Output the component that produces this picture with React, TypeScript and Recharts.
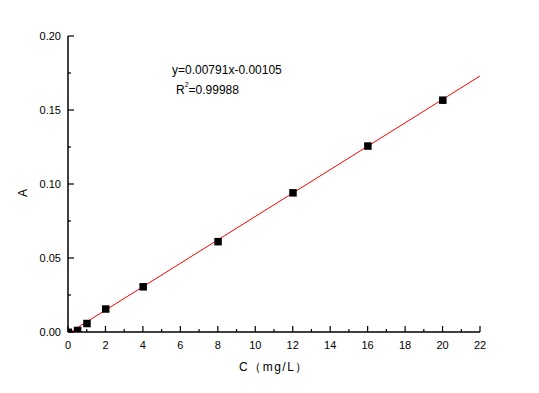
import React from 'react'
import { ComposedChart, Scatter, Line, XAxis, YAxis } from 'recharts'

// measured concentrations (mg/L) and absorbance
const conc = [0, 0.5, 1, 2, 4, 8, 12, 16, 20]
const absorb = [0, 0.0012, 0.0059, 0.0157, 0.0307, 0.0612, 0.0942, 0.1258, 0.1568]

// linear fit y=0.00791x-0.00105, drawn across the axis range
const fitX = [0.133, 22]
const fitY = [0, 0.17297]

const xTicks = Array.from({ length: 23 }, (_, i) => i)
const yTicks = [0, 0.025, 0.05, 0.075, 0.1, 0.125, 0.15, 0.175, 0.2]

const points = conc.map((c, i) => ({ x: c, y: absorb[i] }))
const fit = fitX.map((x, i) => ({ x, y: fitY[i] }))

const font = '"Liberation Sans", Arial, sans-serif'

const XTick = (props: any) => {
    const { x, y, payload } = props
    const major = payload.value % 2 === 0
    const top = y - 8
    return (
        <g>
            <line x1={x} x2={x} y1={top} y2={top - (major ? 6 : 3)} stroke="#000" strokeWidth={1.2} />
            {major && (
                <text x={x} y={top + 17} textAnchor="middle" fontSize={11} fontFamily={font} fill="#000">
                    {payload.value}
                </text>
            )}
        </g>
    )
}

const YTick = (props: any) => {
    const { x, y, payload } = props
    const v = payload.value
    const major = Math.abs(Math.round(v * 20) - v * 20) < 1e-6
    const ax = x + 8
    return (
        <g>
            <line x1={ax} x2={ax + (major ? 6 : 3)} y1={y} y2={y} stroke="#000" strokeWidth={1.2} />
            {major && (
                <text x={ax - 7} y={y + 4} textAnchor="end" fontSize={11} fontFamily={font} fill="#000">
                    {v.toFixed(2)}
                </text>
            )}
        </g>
    )
}

const Square = (props: any) => {
    const { cx, cy } = props
    return <rect x={cx - 3.5} y={cy - 3.5} width={7.5} height={7.5} fill="#000" />
}

export default function App() {
    return (
        <div style={{ position: 'absolute', left: 0, top: 0, width: 539, height: 393, background: '#fff', fontFamily: font }}>
            <ComposedChart width={539} height={393} margin={{ top: 36, right: 59, left: 0, bottom: 0 }}>
                <XAxis
                    dataKey="x"
                    type="number"
                    domain={[0, 22]}
                    ticks={xTicks}
                    interval={0}
                    height={61}
                    tickLine={false}
                    tick={<XTick />}
                    axisLine={{ stroke: '#000', strokeWidth: 1.5 }}
                    allowDataOverflow
                />
                <YAxis
                    dataKey="y"
                    type="number"
                    domain={[0, 0.2]}
                    ticks={yTicks}
                    interval={0}
                    width={68}
                    tickLine={false}
                    tick={<YTick />}
                    axisLine={{ stroke: '#000', strokeWidth: 1.5 }}
                    allowDataOverflow
                />
                <Line data={fit} dataKey="y" stroke="#ff0000" strokeWidth={1} dot={false} isAnimationActive={false} />
                <Scatter data={points} dataKey="y" shape={<Square />} isAnimationActive={false} />
            </ComposedChart>
            <div style={{ position: 'absolute', left: 172, top: 63, fontSize: 12, color: '#000' }}>y=0.00791x-0.00105</div>
            <div style={{ position: 'absolute', left: 176, top: 83, fontSize: 12, color: '#000' }}>
                R<sup style={{ fontSize: 7, verticalAlign: 'top', position: 'relative', top: -2 }}>2</sup>=0.99988
            </div>
            <div
                style={{
                    position: 'absolute',
                    left: 19,
                    top: 186,
                    fontSize: 12,
                    color: '#000',
                    transform: 'rotate(-90deg)',
                }}
            >
                A
            </div>
            <div
                style={{
                    position: 'absolute',
                    left: 239,
                    top: 359,
                    fontSize: 12,
                    color: '#000',
                    whiteSpace: 'pre',
                    letterSpacing: 1.5,
                }}
            >
                C（mg/L）
            </div>
        </div>
    )
}
